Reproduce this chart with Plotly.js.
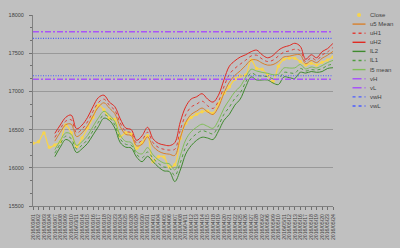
<!DOCTYPE html>
<html><head><meta charset="utf-8">
<script src="https://cdn.plot.ly/plotly-3.0.1.min.js"></script>
<style>html,body{margin:0;padding:0;background:#c0c0c0}#c{width:400px;height:248px}</style>
</head><body><div id="c"></div>
<script>
const dates = ["2016/03/01","2016/03/02","2016/03/03","2016/03/04","2016/03/07","2016/03/08","2016/03/09","2016/03/10","2016/03/11","2016/03/14","2016/03/15","2016/03/16","2016/03/17","2016/03/18","2016/03/22","2016/03/23","2016/03/24","2016/03/25","2016/03/28","2016/03/29","2016/03/30","2016/03/31","2016/04/01","2016/04/04","2016/04/05","2016/04/06","2016/04/07","2016/04/08","2016/04/11","2016/04/12","2016/04/13","2016/04/14","2016/04/15","2016/04/18","2016/04/19","2016/04/20","2016/04/21","2016/04/22","2016/04/25","2016/04/26","2016/04/27","2016/04/28","2016/05/02","2016/05/06","2016/05/09","2016/05/10","2016/05/11","2016/05/12","2016/05/13","2016/05/16","2016/05/17","2016/05/18","2016/05/19","2016/05/20","2016/05/23","2016/05/24"];
const close = [16320,16340,16455,16270,16300,16340,16560,16460,16280,16390,16520,16660,16820,16760,16650,16635,16410,16460,16440,16255,16330,16420,16080,16145,16140,16010,16040,16385,16580,16660,16700,16735,16745,16715,16835,16975,17060,17160,17200,17215,17410,17300,17290,17215,17130,17330,17420,17435,17435,17390,17345,17370,17345,17380,17410,17450];
const pad = [null,null,null,null];
const uH2 = pad.concat([16450,16560,16660,16690,16510,16560,16660,16800,16920,16950,16860,16800,16640,16520,16500,16360,16420,16530,16380,16320,16300,16290,16330,16600,16800,16900,16930,16970,16900,16860,16950,17150,17330,17400,17450,17480,17520,17540,17480,17440,17470,17540,17580,17600,17630,17590,17420,17480,17440,17520,17560,17630]);
const uH1 = pad.concat([16398,16511,16611,16629,16457,16507,16602,16737,16855,16899,16819,16752,16587,16478,16459,16323,16362,16465,16329,16267,16242,16232,16243,16493,16695,16796,16833,16873,16813,16777,16870,17060,17223,17301,17357,17409,17464,17474,17424,17391,17409,17464,17514,17529,17552,17532,17389,17441,17408,17476,17516,17576]);
const u5 = pad.concat([16349,16464,16564,16571,16408,16458,16548,16678,16795,16851,16781,16708,16538,16438,16421,16287,16308,16405,16281,16218,16188,16178,16162,16392,16595,16699,16742,16782,16732,16698,16795,16975,17122,17209,17269,17341,17411,17411,17371,17344,17351,17392,17451,17461,17478,17478,17361,17404,17377,17434,17474,17524]);
const l5 = pad.concat([16237,16357,16457,16438,16293,16343,16422,16541,16654,16740,16692,16604,16423,16345,16332,16206,16182,16264,16170,16103,16062,16052,15973,16159,16366,16473,16531,16571,16543,16517,16621,16779,16889,16994,17065,17186,17289,17267,17249,17237,17218,17225,17307,17306,17308,17352,17294,17319,17307,17338,17378,17406]);
const lL1 = pad.concat([16191,16314,16414,16384,16247,16297,16371,16486,16597,16695,16656,16562,16377,16308,16296,16173,16131,16207,16125,16057,16011,16001,15897,16065,16273,16382,16446,16486,16467,16444,16551,16700,16795,16907,16983,17123,17240,17209,17200,17194,17164,17158,17249,17243,17239,17301,17267,17285,17279,17299,17339,17358]);
const lL2 = pad.concat([16145,16270,16370,16330,16200,16250,16320,16430,16540,16650,16620,16520,16330,16270,16260,16140,16080,16150,16080,16010,15960,15950,15820,15970,16180,16290,16360,16400,16390,16370,16480,16620,16700,16820,16900,17060,17190,17150,17150,17150,17110,17090,17190,17180,17170,17250,17240,17260,17250,17260,17300,17310]);
const vH = 17780, vL = 17160, vwH = 17695, vwL = 17205;
const yTicks = [15500,16000,16500,17000,17500,18000];

const C = {close:'#f7d44c', u5:'#d8802c', uH1:'#e04038', uH2:'#e02a22', lL2:'#3f8a2e', lL1:'#4f9d3e', l5:'#80be58', v:'#a855f7', vw:'#4a5cff'};
const ends = [dates[0], dates[dates.length-1]];
const tr = [
 {name:'Close', y:close, line:{color:C.close,width:1.3,shape:'spline'}, mode:'lines+markers', marker:{color:C.close,size:3.5}},
 {name:'u5 Mean', y:u5, line:{color:C.u5,width:1,shape:'spline'}},
 {name:'uH1', y:uH1, line:{color:C.uH1,width:1,dash:'dot',shape:'spline'}},
 {name:'uH2', y:uH2, line:{color:C.uH2,width:1,shape:'spline'}},
 {name:'lL2', y:lL2, line:{color:C.lL2,width:1,shape:'spline'}},
 {name:'lL1', y:lL1, line:{color:C.lL1,width:1,dash:'dot',shape:'spline'}},
 {name:'l5 mean', y:l5, line:{color:C.l5,width:1,shape:'spline'}},
].map(t=>Object.assign({x:dates, type:'scatter', mode:'lines', connectgaps:false, showlegend:false, hoverinfo:'skip'}, t));
const hl = [['vH',vH,C.v,'6px,2px,2px,2px',1.4],['vL',vL,C.v,'6px,2px,2px,2px',1.4],['vwH',vwH,C.vw,'1px,1.5px',1.2],['vwL',vwL,C.vw,'1px,1.5px',1.2]];
hl.forEach(h=>tr.push({name:h[0], x:ends, y:[h[1],h[1]], type:'scatter', mode:'lines', showlegend:false, hoverinfo:'skip', line:{color:h[2],width:h[4],dash:h[3]}}));

// custom legend (pixel positions converted to paper coords)
const L=32.5, R=333.4, T=15, B=206;
const px=x=>(x-L)/(R-L), py=y=>(B-y)/(B-T);
const shapes=[], ann=[];
const leg = [['Close',C.close,'solid'],['u5 Mean',C.u5,'solid'],['uH1',C.uH1,'dot'],['uH2',C.uH2,'solid'],['lL2',C.lL2,'solid'],['lL1',C.lL1,'dot'],['l5 mean',C.l5,'solid'],['vH',C.v,'dashdot'],['vL',C.v,'dashdot'],['vwH',C.vw,'dot'],['vwL',C.vw,'dot']];
leg.forEach((e,k)=>{
  const y = 15 + k*9.1;
  if(k===0){
    shapes.push({type:'circle',xref:'paper',yref:'paper',x0:px(357.5),x1:px(361.5),y0:py(y+2),y1:py(y-2),fillcolor:e[1],line:{width:0}});
  } else {
    shapes.push({type:'line',xref:'paper',yref:'paper',x0:px(353),x1:px(366),y0:py(y),y1:py(y),line:{color:e[1],width:1.4,dash:e[2]}});
  }
  ann.push({xref:'paper',yref:'paper',x:px(369),y:py(y),text:e[0],showarrow:false,xanchor:'left',yanchor:'middle',font:{family:'Liberation Sans, Arial, sans-serif',size:6,color:'#404040'}});
});

const layout = {
  width:400, height:248, margin:{l:L, r:400-R, t:T, b:248-B, pad:0},
  paper_bgcolor:'#c0c0c0', plot_bgcolor:'#c0c0c0', showlegend:false,
  font:{family:'Liberation Sans, Arial, sans-serif', size:6, color:'#404040'},
  xaxis:{type:'category', range:[0,dates.length-1], showgrid:false, tickangle:-90, ticks:'outside', ticklen:3, tickcolor:'#707070',
         tickmode:'array', tickvals:dates, ticktext:dates,
         showline:true, linecolor:'#808080', linewidth:1, tickfont:{size:5.2,color:'#404040'}, zeroline:false, automargin:false, ticklabelstandoff:2},
  yaxis:{range:[15500,18000], tickvals:yTicks, ticktext:yTicks.map(String), showgrid:true, gridcolor:'#999999', gridwidth:1,
         ticks:'outside', ticklen:3, tickcolor:'#707070', showline:true, linecolor:'#808080', linewidth:1, zeroline:false,
         tickfont:{size:5.5,color:'#404040'}, automargin:false, ticklabelstandoff:4,
         minor:{dtick:166.667, ticks:'outside', ticklen:2, tickcolor:'#707070', showgrid:false}},
  shapes:shapes, annotations:ann
};
Plotly.newPlot('c', tr, layout, {staticPlot:true, displayModeBar:false});
</script></body></html>
